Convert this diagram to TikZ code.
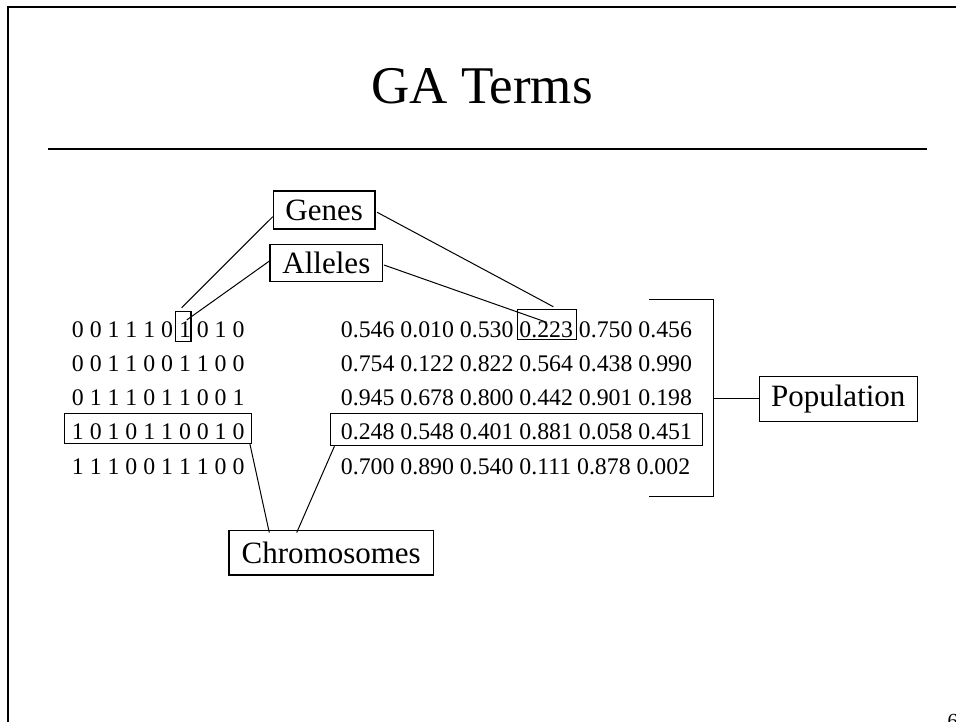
\documentclass[tikz,border=0pt]{standalone}
\usepackage{fontspec}
\setmainfont{Liberation Serif}
\begin{document}
\begin{tikzpicture}[x=1pt,y=-1pt,
  bodytext/.style={font=\fontsize{23.8}{28}\selectfont, inner sep=0pt, anchor=base west},
  labelbox/.style={draw, line width=1.2pt, font=\fontsize{31}{36}\selectfont, inner sep=0pt, align=center},
  markbox/.style={draw, line width=1.2pt, inner sep=0pt},
  link/.style={line width=1pt}]
\useasboundingbox (0,0) rectangle (956,721);

% slide frame and title
\draw[line width=2pt] (7.5,725) -- (7.5,7) -- (960,7);
\node[font=\fontsize{53}{60}\selectfont, inner sep=0pt, anchor=base] (title) at (482,103.3) {GA Terms};
\draw[line width=1.2pt] (48,149) -- (927,149);

% binary chromosomes
\node[bodytext] (b1) at (71.7,337.0) {0 0 1 1 1 0 1 0 1 0};
\node[bodytext] (b2) at (71.7,371.3) {0 0 1 1 0 0 1 1 0 0};
\node[bodytext] (b3) at (71.7,405.6) {0 1 1 1 0 1 1 0 0 1};
\node[bodytext] (b4) at (71.7,439.9) {1 0 1 0 1 1 0 0 1 0};
\node[bodytext] (b5) at (71.7,474.2) {1 1 1 0 0 1 1 1 0 0};

% real-valued chromosomes
\node[bodytext] (r1) at (340.7,337.0) {0.546 0.010 0.530 0.223 0.750 0.456};
\node[bodytext] (r2) at (340.7,371.3) {0.754 0.122 0.822 0.564 0.438 0.990};
\node[bodytext] (r3) at (340.7,405.6) {0.945 0.678 0.800 0.442 0.901 0.198};
\node[bodytext] (r4) at (340.7,439.9) {0.248 0.548 0.401 0.881 0.058 0.451};
\node[bodytext] (r5) at (340.7,474.2) {0.700 0.890 0.540 0.111 0.878 0.002};

% highlighted gene and chromosome boxes
\node[markbox, minimum width=15.7pt, minimum height=29.6pt] (bit) at (183.2,326.5) {};
\node[markbox, minimum width=59.4pt, minimum height=30pt] (val) at (547,324.3) {};
\node[markbox, minimum width=187.4pt, minimum height=30pt] (rowL) at (158,428.3) {};
\node[markbox, minimum width=372pt, minimum height=32.4pt] (rowR) at (516.7,429.5) {};

% term labels
\node[labelbox, minimum width=101.7pt, minimum height=38pt] (genes) at (324.2,210) {Genes};
\node[labelbox, minimum width=112.7pt, minimum height=37.4pt] (alleles) at (326.4,263) {Alleles};
\node[labelbox, minimum width=158pt, minimum height=45pt] (pop) at (838.3,399.2) {Population};
\node[labelbox, minimum width=204.3pt, minimum height=44.3pt] (chrom) at (331.2,552.9) {Chromosomes};

% connectors
\draw[link] ([yshift=-6.7pt]genes.west) -- ([xshift=-1.5pt,yshift=3.4pt]bit.north);
\draw[link] ([yshift=2pt]alleles.west) -- ([xshift=3.5pt,yshift=6.5pt]bit.center);
\draw[link] ([xshift=1.5pt,yshift=-2.3pt]genes.east) -- ([xshift=6.3pt,yshift=2pt]val.north);
\draw[link] ([xshift=0.6pt,yshift=-2pt]alleles.east) -- ([xshift=-0.3pt,yshift=2pt]val.center);
\draw[link] ([xshift=-61.9pt,yshift=-2.4pt]chrom.north) -- ([xshift=-2.4pt]rowL.south east);
\draw[link] ([xshift=-34.5pt,yshift=-2.4pt]chrom.north) -- ([xshift=4.3pt]rowR.south west);

% population bracket
\coordinate (brtop) at (649.3,299);
\coordinate (brbot) at (649.3,496.7);
\coordinate (brmid) at (713.3,398.3);
\draw[link] (brtop) -- (713.3,299) -- (713.3,496.7) -- (brbot);
\draw[link] (brmid) -- (pop.west |- brmid);

% page number
\node[font=\fontsize{20}{24}\selectfont, inner sep=0pt, anchor=north west] (pageno) at (947.5,714.5) {6};
\end{tikzpicture}
\end{document}
